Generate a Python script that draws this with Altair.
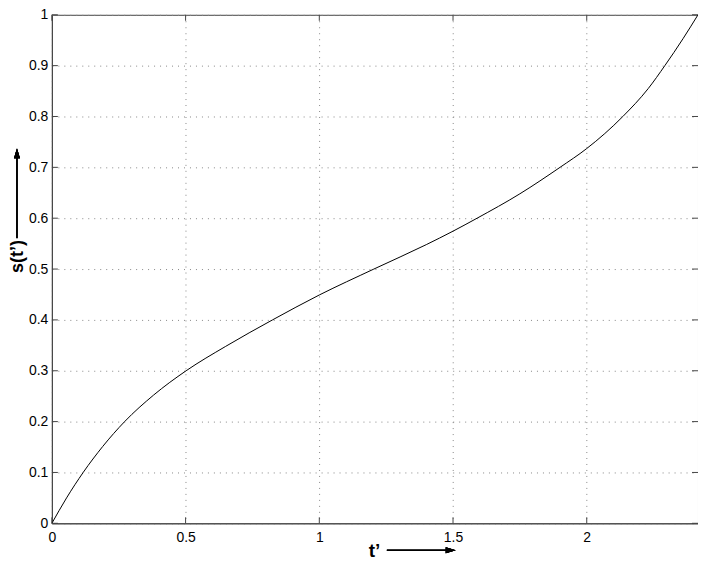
import altair as alt
import pandas as pd

# values
t_vals = [0, 0.055, 0.117, 0.19, 0.272, 0.38, 0.502, 0.65, 0.825, 1.0, 1.204,
          1.4, 1.5, 1.59, 1.75, 1.9, 2.0, 2.135, 2.23, 2.292, 2.36, 2.416]
s_vals = [0, 0.05, 0.1, 0.151, 0.2, 0.252, 0.3, 0.348, 0.4, 0.449, 0.5,
          0.548, 0.5745, 0.6, 0.648, 0.7, 0.737, 0.8, 0.855, 0.9, 0.953, 1.0]
x_ticks = [0, 0.5, 1, 1.5, 2]
y_ticks = [0, 0.1, 0.2, 0.3, 0.4, 0.5, 0.6, 0.7, 0.8, 0.9, 1]
X_MAX = 2.416
x_title = "t’"
y_title = "s(t’)"

W, H = 648, 510
FONT = "Liberation Sans"
FRAME = "#444444"

df = pd.DataFrame({"t": t_vals, "s": s_vals})
xt = pd.DataFrame({"v": x_ticks})
yt = pd.DataFrame({"v": y_ticks})

xs = alt.Scale(domain=[0, X_MAX], nice=False, zero=False)
ys = alt.Scale(domain=[0, 1], nice=False)

grid_common = dict(grid=True, gridDash=[1, 5], gridColor="#888888", gridWidth=1,
                   ticks=False, domain=True, domainColor=FRAME, domainWidth=1,
                   labelFont=FONT, labelFontSize=14, labelColor="black",
                   titleFont=FONT, titleFontWeight="bold",
                   titleColor="black", format="~g")

curve = alt.Chart(df).mark_line(color="black", strokeWidth=1, interpolate="monotone").encode(
    x=alt.X("t:Q", scale=xs,
            axis=alt.Axis(values=x_ticks, title=x_title, labelPadding=7, titleFontSize=19,
                          titleX=323, titleY=27, titleAlign="center",
                          titleBaseline="middle", labelFlush=False, **grid_common)),
    y=alt.Y("s:Q", scale=ys,
            axis=alt.Axis(values=y_ticks, title=y_title, labelPadding=4, titleFontSize=18,
                          titleX=-34, titleY=242, titleAngle=270, titleAlign="center",
                          titleBaseline="middle", labelFlush=False, **grid_common)),
)

tick_bottom = alt.Chart(xt).mark_rule(color=FRAME, strokeWidth=1).encode(
    x=alt.X("v:Q", scale=xs), y=alt.value(H), y2=alt.value(H - 6))
tick_top = alt.Chart(xt).mark_rule(color=FRAME, strokeWidth=1).encode(
    x=alt.X("v:Q", scale=xs), y=alt.value(0), y2=alt.value(6))
tick_left = alt.Chart(yt).mark_rule(color=FRAME, strokeWidth=1).encode(
    y=alt.Y("v:Q", scale=ys), x=alt.value(0), x2=alt.value(6))
tick_right = alt.Chart(yt).mark_rule(color=FRAME, strokeWidth=1).encode(
    y=alt.Y("v:Q", scale=ys), x=alt.value(W), x2=alt.value(W - 6))

arrow_x_line = alt.Chart(xt).mark_rule(color="black", strokeWidth=1).encode(
    x=alt.value(336), x2=alt.value(400), y=alt.value(537))
arrow_x_head = alt.Chart(xt).mark_point(
    shape="M -1 -0.6 L 1 0 L -1 0.6 Z", filled=True, color="black", opacity=1, size=100
).encode(x=alt.value(400), y=alt.value(537))
arrow_y_line = alt.Chart(xt).mark_rule(color="black", strokeWidth=1).encode(
    x=alt.value(-35), y=alt.value(224), y2=alt.value(139))
arrow_y_head = alt.Chart(xt).mark_point(
    shape="M -0.6 1 L 0 -1 L 0.6 1 Z", filled=True, color="black", opacity=1, size=100
).encode(x=alt.value(-35), y=alt.value(139))

chart = alt.layer(
    curve, tick_bottom, tick_top, tick_left, tick_right,
    arrow_x_line, arrow_x_head, arrow_y_line, arrow_y_head
).properties(
    width=W, height=H,
    autosize=alt.AutoSizeParams(type="none"),
    padding={"left": 44, "top": 6, "right": 0, "bottom": 40},
    background="white",
).configure_view(stroke=FRAME, strokeWidth=1)

chart.save("out.html", embed_options={"renderer": "svg", "actions": False})
